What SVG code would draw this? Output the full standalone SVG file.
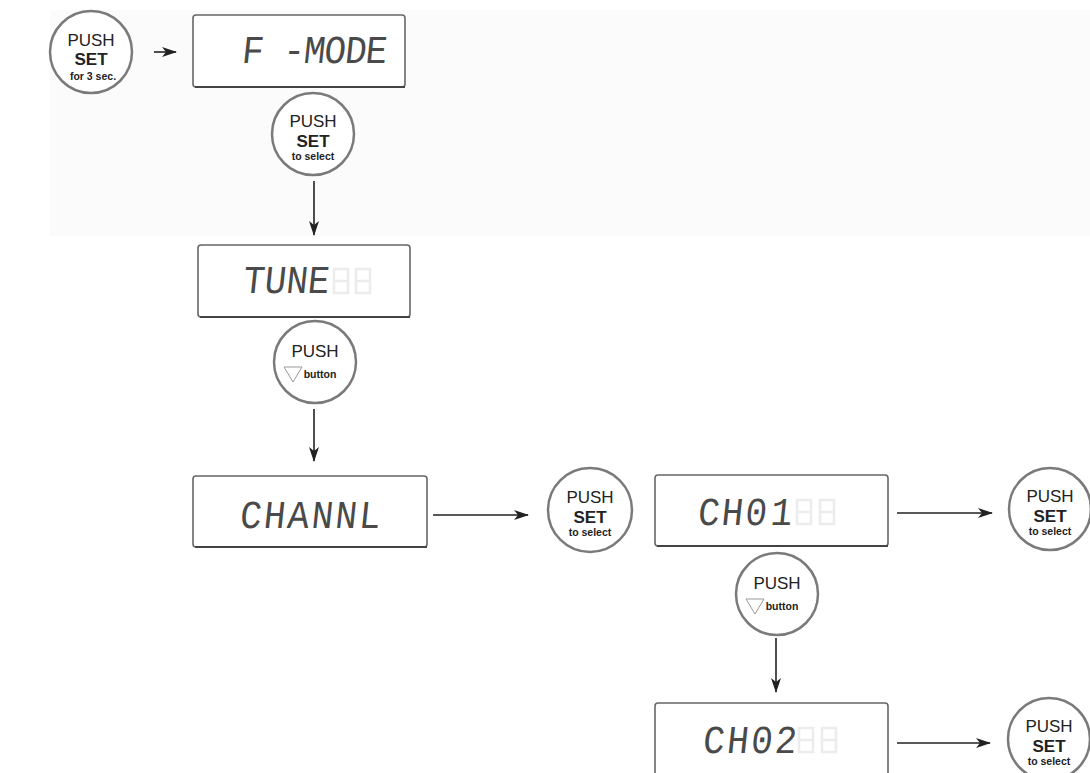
<svg xmlns="http://www.w3.org/2000/svg" width="1090" height="773" viewBox="0 0 1090 773">
<style>
.btn{fill:#fff;stroke:#7a7a7a;stroke-width:2.5}
.box{fill:#fff;stroke:#666;stroke-width:1.6}
.shadow{fill:none;stroke:#444;stroke-width:2}
.t{font-family:"Liberation Sans",Arial,sans-serif;fill:#222;text-anchor:middle}
.push{font-size:17px}
.set{font-size:17px;font-weight:bold}
.small{font-size:10.5px;font-weight:bold}
.lcd{font-family:"Liberation Mono","DejaVu Sans Mono",monospace;font-size:36px;fill:#4a4a4a}
.ghost{fill:none;stroke:#ececec;stroke-width:2.5}
.conn line{stroke:#222;stroke-width:1.6;marker-end:url(#ah)}
.tri{fill:none;stroke:#999;stroke-width:1}
</style>
<defs>
<marker id="ah" markerWidth="16" markerHeight="12" refX="14" refY="5" orient="auto" markerUnits="userSpaceOnUse">
<path d="M0,0 L15,5 L0,10 L4,5 z" fill="#222"/>
</marker>
<path id="g8" d="M1,0 H15 V12 H1 z M1,12 H15 V24 H1 z"/>
</defs>
<rect width="1090" height="773" fill="#fff"/>
<rect x="50" y="10" width="1040" height="226" fill="#fbfbfb"/>

<g class="conn" id="connectors">
<line x1="154" y1="52" x2="176" y2="52"/>
<line x1="314" y1="181" x2="314" y2="235"/>
<line x1="314" y1="409" x2="314" y2="461"/>
<line x1="433" y1="515" x2="528" y2="515"/>
<line x1="897" y1="513" x2="992" y2="513"/>
<line x1="776" y1="638" x2="776" y2="692"/>
<line x1="897" y1="743" x2="990" y2="743"/>
</g>

<g id="btn-set-3sec">
<circle class="btn" cx="91" cy="52" r="41"/>
<text class="t push" x="91" y="46">PUSH</text>
<text class="t set" x="91" y="65">SET</text>
<text class="t small" x="93" y="80">for 3 sec.</text>
</g>

<g id="lcd-fmode">
<rect class="box" x="193" y="15" width="212" height="72" rx="3"/>
<line class="shadow" x1="195" y1="87" x2="405" y2="87"/>
<text class="lcd" transform="translate(241,63) skewX(-6) scale(1,1.1)" letter-spacing="-1">F -MODE</text>
</g>

<g id="btn-set-select-1">
<circle class="btn" cx="313" cy="134" r="41"/>
<text class="t push" x="313" y="127">PUSH</text>
<text class="t set" x="313" y="147">SET</text>
<text class="t small" x="313" y="160">to select</text>
</g>

<g id="lcd-tune">
<rect class="box" x="198" y="245" width="212" height="72" rx="3"/>
<line class="shadow" x1="200" y1="317" x2="410" y2="317"/>
<text class="lcd" transform="translate(242,293) skewX(-6) scale(1,1.1)">TUNE</text>
<use href="#g8" class="ghost" x="333" y="269"/>
<use href="#g8" class="ghost" x="355" y="269"/>
</g>

<g id="btn-down-1">
<circle class="btn" cx="315" cy="362" r="41"/>
<text class="t push" x="315" y="357">PUSH</text>
<path class="tri" d="M284,367 L302,367 L293,382 z"/>
<text class="t small" x="320" y="378">button</text>
</g>

<g id="lcd-channl">
<rect class="box" x="193" y="476" width="234" height="71" rx="3"/>
<line class="shadow" x1="195" y1="547" x2="427" y2="547"/>
<text class="lcd" transform="translate(239,528) skewX(-6) scale(1,1.1)" letter-spacing="2.2">CHANNL</text>
</g>

<g id="btn-set-select-2">
<circle class="btn" cx="590" cy="510" r="42"/>
<text class="t push" x="590" y="503">PUSH</text>
<text class="t set" x="590" y="523">SET</text>
<text class="t small" x="590" y="536">to select</text>
</g>

<g id="lcd-ch01">
<rect class="box" x="655" y="475" width="233" height="71" rx="3"/>
<line class="shadow" x1="657" y1="546" x2="888" y2="546"/>
<text class="lcd" transform="translate(697,525) skewX(-6) scale(1,1.1)" letter-spacing="2">CH0<tspan dx="2">1</tspan></text>
<use href="#g8" class="ghost" x="796" y="500"/>
<use href="#g8" class="ghost" x="819" y="500"/>
</g>

<g id="btn-set-select-3">
<circle class="btn" cx="1050" cy="509" r="41"/>
<text class="t push" x="1050" y="502">PUSH</text>
<text class="t set" x="1050" y="522">SET</text>
<text class="t small" x="1050" y="535">to select</text>
</g>

<g id="btn-down-2">
<circle class="btn" cx="777" cy="594" r="41"/>
<text class="t push" x="777" y="589">PUSH</text>
<path class="tri" d="M746,599 L764,599 L755,614 z"/>
<text class="t small" x="782" y="610">button</text>
</g>

<g id="lcd-ch02">
<rect class="box" x="655" y="703" width="233" height="75" rx="3"/>
<text class="lcd" transform="translate(702,753) skewX(-6) scale(1,1.1)" letter-spacing="2.4">CH02</text>
<use href="#g8" class="ghost" x="798" y="728"/>
<use href="#g8" class="ghost" x="821" y="728"/>
</g>

<g id="btn-set-select-4">
<circle class="btn" cx="1049" cy="739" r="41"/>
<text class="t push" x="1049" y="732">PUSH</text>
<text class="t set" x="1049" y="752">SET</text>
<text class="t small" x="1049" y="765">to select</text>
</g>
</svg>
